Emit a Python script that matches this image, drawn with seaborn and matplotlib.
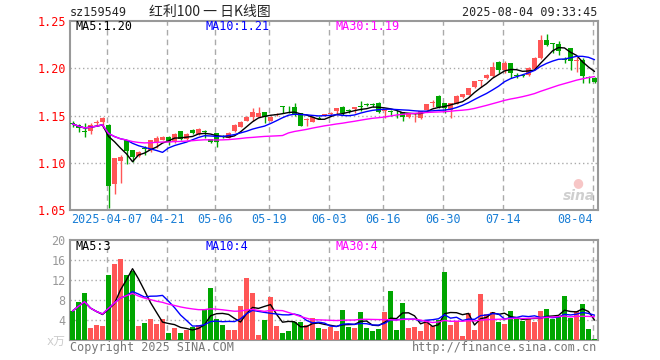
import numpy as np
import pandas as pd
import matplotlib
matplotlib.use("Agg")
import matplotlib.pyplot as plt
import seaborn as sns

# daily OHLC (index 0 = 2025-03-27)
opens = [1.1415, 1.1400, 1.1335, 1.1339, 1.1425, 1.1428, 1.1400, 1.0772, 1.1018, 1.1241,
         1.1135, 1.1075, 1.1155, 1.1140, 1.1215, 1.1241, 1.1270, 1.1223, 1.1336, 1.1251,
         1.1347, 1.1300, 1.1335, 1.1251, 1.1312, 1.1278, 1.1265, 1.1336, 1.1382, 1.1442,
         1.1488, 1.1487, 1.1534, 1.1442, 1.1510, 1.1595, 1.1588, 1.1593, 1.1523, 1.1450,
         1.1434, 1.1472, 1.1503, 1.1520, 1.1548, 1.1593, 1.1550, 1.1566, 1.1592, 1.1620,
         1.1613, 1.1629, 1.1546, 1.1542, 1.1536, 1.1534, 1.1484, 1.1521, 1.1470, 1.1558,
         1.1634, 1.1710, 1.1629, 1.1558, 1.1622, 1.1692, 1.1720, 1.1802, 1.1870, 1.1897,
         1.1915, 1.2063, 1.1985, 1.2056, 1.1927, 1.1927, 1.1925, 1.1995, 1.2108, 1.2302,
         1.2259, 1.2257, 1.2092, 1.2214, 1.2082, 1.2090, 1.1906, 1.1897]
closes = [1.1410, 1.1365, 1.1330, 1.1400, 1.1430, 1.1477, 1.0757, 1.1047, 1.1064, 1.1124,
          1.1064, 1.1111, 1.1150, 1.1241, 1.1265, 1.1276, 1.1223, 1.1300, 1.1251, 1.1304,
          1.1312, 1.1357, 1.1330, 1.1216, 1.1216, 1.1274, 1.1318, 1.1400, 1.1428, 1.1481,
          1.1540, 1.1523, 1.1481, 1.1487, 1.1515, 1.1590, 1.1585, 1.1505, 1.1390, 1.1455,
          1.1480, 1.1468, 1.1507, 1.1524, 1.1576, 1.1523, 1.1546, 1.1587, 1.1588, 1.1616,
          1.1609, 1.1540, 1.1550, 1.1538, 1.1532, 1.1487, 1.1513, 1.1525, 1.1548, 1.1622,
          1.1638, 1.1593, 1.1576, 1.1629, 1.1710, 1.1725, 1.1791, 1.1862, 1.1874, 1.1932,
          1.2010, 1.1985, 1.2056, 1.1950, 1.1923, 1.1923, 1.2003, 1.2108, 1.2302, 1.2249,
          1.2255, 1.2180, 1.2088, 1.2073, 1.2086, 1.1915, 1.1902, 1.1855]
highs = [1.1442, 1.1405, 1.1417, 1.1417, 1.1450, 1.1488, 1.1407, 1.1050, 1.1080, 1.1245,
         1.1140, 1.1124, 1.1180, 1.1245, 1.1280, 1.1280, 1.1287, 1.1310, 1.1340, 1.1310,
         1.1360, 1.1365, 1.1347, 1.1255, 1.1318, 1.1290, 1.1322, 1.1410, 1.1445, 1.1490,
         1.1576, 1.1593, 1.1540, 1.1490, 1.1530, 1.1600, 1.1600, 1.1629, 1.1525, 1.1470,
         1.1485, 1.1490, 1.1520, 1.1540, 1.1580, 1.1600, 1.1568, 1.1590, 1.1653, 1.1636,
         1.1630, 1.1645, 1.1555, 1.1560, 1.1560, 1.1540, 1.1520, 1.1530, 1.1548, 1.1625,
         1.1663, 1.1720, 1.1635, 1.1629, 1.1716, 1.1730, 1.1796, 1.1868, 1.1880, 1.1940,
         1.2063, 1.2080, 1.2080, 1.2056, 1.1945, 1.1940, 1.2012, 1.2115, 1.2349, 1.2362,
         1.2268, 1.2285, 1.2124, 1.2214, 1.2118, 1.2107, 1.1922, 1.1904]
lows = [1.1375, 1.1322, 1.1275, 1.1307, 1.1400, 1.1367, 1.0518, 1.0670, 1.0782, 1.0987,
        1.1011, 1.1060, 1.1082, 1.1117, 1.1160, 1.1236, 1.1187, 1.1210, 1.1237, 1.1240,
        1.1300, 1.1290, 1.1265, 1.1210, 1.1170, 1.1260, 1.1262, 1.1330, 1.1375, 1.1438,
        1.1445, 1.1480, 1.1418, 1.1438, 1.1490, 1.1530, 1.1530, 1.1500, 1.1385, 1.1390,
        1.1430, 1.1460, 1.1490, 1.1510, 1.1505, 1.1510, 1.1525, 1.1523, 1.1548, 1.1600,
        1.1590, 1.1530, 1.1477, 1.1500, 1.1477, 1.1442, 1.1470, 1.1428, 1.1465, 1.1555,
        1.1590, 1.1580, 1.1523, 1.1470, 1.1618, 1.1685, 1.1712, 1.1795, 1.1805, 1.1890,
        1.1905, 1.1950, 1.1945, 1.1897, 1.1900, 1.1905, 1.1915, 1.1985, 1.2100, 1.2238,
        1.2161, 1.2140, 1.2055, 1.1985, 1.1960, 1.1844, 1.1845, 1.1845]
# volume (x万)
volumes = [5.8, 7.7, 9.5, 2.5, 3.0, 2.8, 13.0, 15.2, 16.2, 13.0,
           13.9, 2.8, 3.5, 4.2, 3.2, 4.2, 1.4, 2.4, 1.4, 2.1,
           2.7, 3.0, 6.0, 10.4, 4.2, 3.0, 2.0, 2.0, 6.8, 12.4,
           9.4, 1.0, 4.0, 8.6, 2.8, 1.4, 1.8, 3.6, 3.6, 3.0,
           4.4, 2.4, 2.2, 2.7, 1.9, 6.0, 2.6, 2.4, 5.6, 2.4,
           1.8, 2.2, 5.6, 9.8, 2.0, 7.4, 2.4, 2.6, 1.8, 4.0,
           2.8, 4.1, 13.6, 3.0, 3.8, 0.8, 5.4, 2.0, 9.2, 5.2,
           5.6, 3.6, 3.2, 5.8, 4.2, 3.8, 4.2, 3.6, 5.8, 6.2,
           4.2, 4.8, 8.8, 4.5, 5.8, 7.2, 2.2, 0.2]

date_pos = [6, 16, 24, 33, 43, 52, 62, 72, 87]
date_labels = ["2025-04-07", "04-21", "05-06", "05-19", "06-03", "06-16", "06-30", "07-14", "08-04"]
price_ticks = [1.05, 1.10, 1.15, 1.20, 1.25]
vol_ticks = [0, 4, 8, 12, 16, 20]
vol_tick_labels = ["x万", "4", "8", "12", "16", "20"]

RED = "#ff5656"
GREEN = "#00a600"
GRID = "#aaaaaa"
MONO = "DejaVu Sans Mono"

sns.set_theme(style="white")
plt.rcParams["font.family"] = ["DejaVu Sans Mono", "Noto Sans CJK SC"]

df = pd.DataFrame({"open": opens, "close": closes, "high": highs, "low": lows, "vol": volumes})
df["x"] = np.arange(len(df))
df["up"] = df["close"] >= df["open"]
df["color"] = np.where(df["up"], RED, GREEN)
for n in (5, 10, 30):
    df[f"ma{n}"] = df["close"].rolling(n, min_periods=1).mean()
    df[f"vma{n}"] = df["vol"].rolling(n, min_periods=1).mean()

W, H = 660, 360
fig = plt.figure(figsize=(W / 100, H / 100), dpi=100)


def fx(x):
    return x / W


def fy(y):
    return 1 - y / H


ax = fig.add_axes([fx(70), fy(210), fx(527.5), 189 / H])
axv = fig.add_axes([fx(70), fy(340), fx(527.5), 100 / H])

# candles
body_bottom = df[["open", "close"]].min(axis=1)
body_h = (df["close"] - df["open"]).abs().clip(lower=0.0008)
ax.vlines(df["x"], df["low"], df["high"], colors=df["color"], lw=1, zorder=3)
ax.bar(df["x"], body_h, bottom=body_bottom, width=0.8, color=df["color"], lw=0, zorder=4)

for col, c in (("ma5", "black"), ("ma10", "#0000ff"), ("ma30", "#ff00ff")):
    sns.lineplot(data=df, x="x", y=col, color=c, lw=1, ax=ax, zorder=5)

# volume
axv.bar(df["x"], df["vol"], width=0.8, color=df["color"], lw=0, zorder=3)
for col, c in (("vma5", "black"), ("vma10", "#0000ff"), ("vma30", "#ff00ff")):
    sns.lineplot(data=df, x="x", y=col, color=c, lw=1, ax=axv, zorder=5)

for a in (ax, axv):
    a.set_xlim(-0.42, 87.5)
    a.set_xlabel("")
    a.set_ylabel("")
    for p in date_pos:
        a.axvline(p - 0.3, color=GRID, lw=1, ls=(0, (4, 3)), zorder=1)
    for s in a.spines.values():
        s.set_color("#999999")
        s.set_linewidth(1.5)
    a.tick_params(length=0)

ax.set_ylim(1.05, 1.25)
ax.set_yticks(price_ticks)
ax.set_yticklabels([f"{t:.2f}" for t in price_ticks], color="red", fontsize=8.5, family=MONO)
for t in price_ticks[1:-1]:
    ax.axhline(t, color=GRID, lw=1, ls=(0, (1, 2)), zorder=1)
ax.set_xticks([p - 0.3 for p in date_pos])
ax.set_xticklabels(date_labels, color="#1a7fd6", fontsize=8.5, family=MONO)
ax.get_xticklabels()[-1].set_horizontalalignment("right")
ax.tick_params(axis="x", pad=2)
ax.tick_params(axis="y", pad=3)

axv.set_ylim(0, 20)
axv.set_yticks(vol_ticks)
axv.set_yticklabels(vol_tick_labels, color="#999999", fontsize=8.5,
                    family=["DejaVu Sans Mono", "Noto Sans CJK SC"])
axv.get_yticklabels()[0].set_color("#cccccc")
for t in vol_ticks[1:-1]:
    axv.axhline(t, color=GRID, lw=1, ls=(0, (1, 2)), zorder=1)
axv.set_xticks([])
axv.tick_params(axis="y", pad=3)

# headers
fig.text(fx(70), fy(12), "sz159549", fontsize=8.5, family=MONO, va="center", ha="left")
fig.text(fx(210), fy(12), "红利100 一 日K线图", fontsize=10, family=["Noto Sans CJK SC", "DejaVu Sans"],
         va="center", ha="center")
fig.text(fx(597), fy(12), "2025-08-04 09:33:45", fontsize=8.5, family=MONO, va="center", ha="right")

for a, labels, y in ((ax, ("MA5:1.20", "MA10:1.21", "MA30:1.19"), 27),
                     (axv, ("MA5:3", "MA10:4", "MA30:4"), 246)):
    for lab, x, c in zip(labels, (75, 205, 335), ("black", "#0000ff", "#ff00ff")):
        fig.text(fx(x), fy(y), lab, fontsize=8.5, family=MONO, color=c, va="center", ha="left")

fig.text(fx(70), fy(347), "Copyright 2025 SINA.COM", fontsize=8.5, family=MONO, color="#777777",
         va="center", ha="left")
fig.text(fx(597), fy(347), "http://finance.sina.com.cn", fontsize=8.5, family=MONO, color="#777777",
         va="center", ha="right")

# sina watermark
fig.text(fx(578), fy(183), "●", fontsize=9, color="#f7c6c6", ha="center", va="center", family="DejaVu Sans")
fig.text(fx(579), fy(196), "sina", fontsize=10, color="#cfcfcf", ha="center", va="center",
         style="italic", weight="bold", family="DejaVu Sans")

fig.savefig("out.png", dpi=100, facecolor="white")
